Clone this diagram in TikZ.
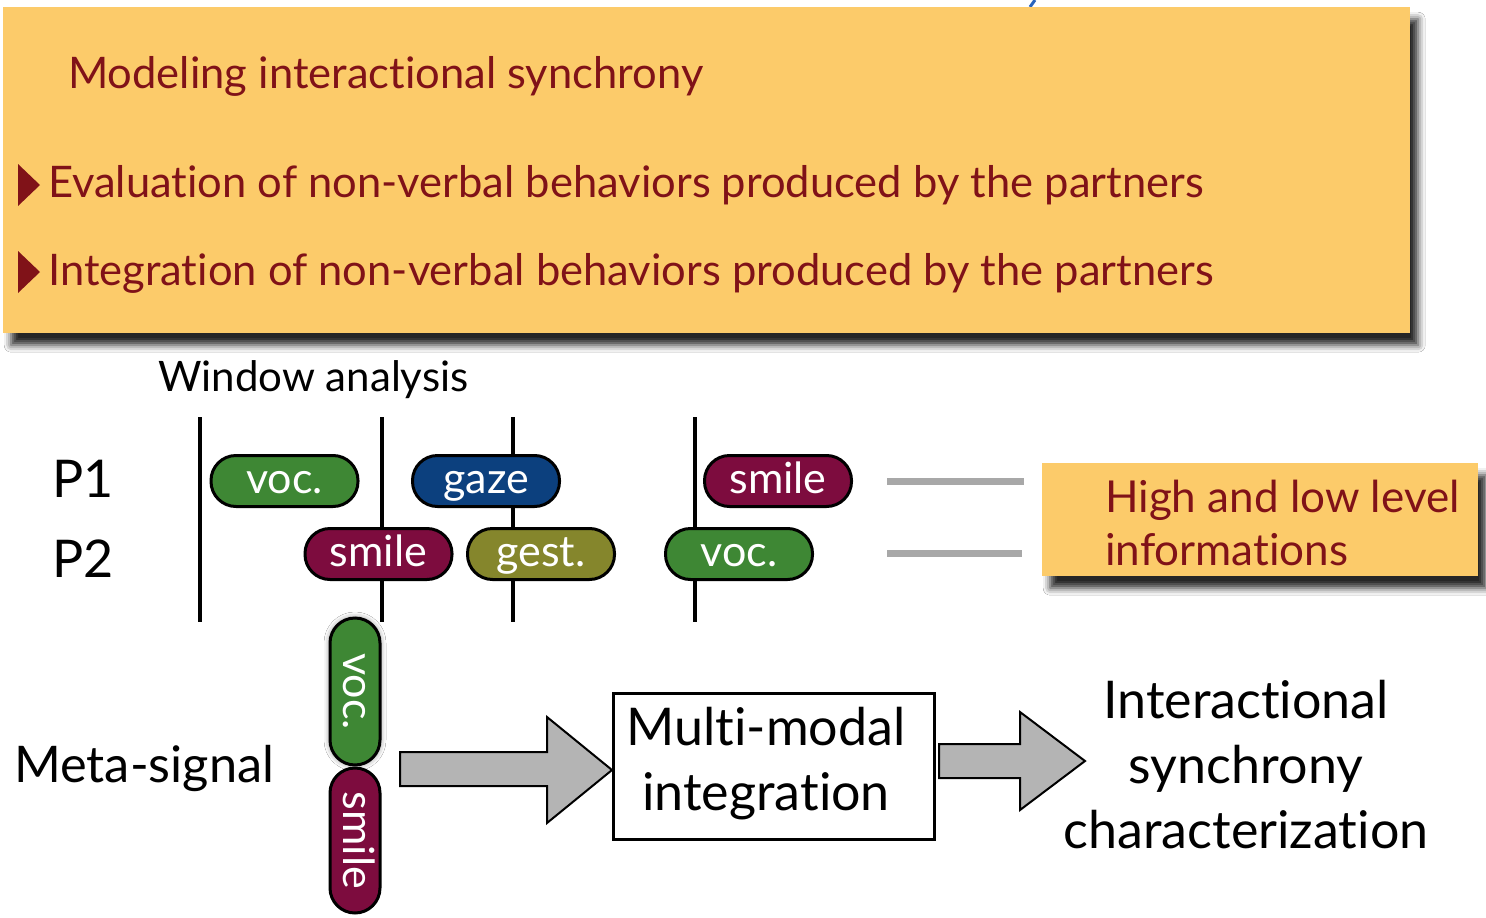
\documentclass[tikz,border=0pt]{standalone}
\usepackage{fontspec}
\setmainfont{Lato}[Ligatures={NoCommon,NoRare,NoDiscretionary}]
\usetikzlibrary{shadows.blur}
\definecolor{boxfill}{RGB}{252,203,106}
\definecolor{darkred}{RGB}{128,18,24}
\definecolor{pgreen}{RGB}{62,135,52}
\definecolor{pblue}{RGB}{12,64,126}
\definecolor{pmaroon}{RGB}{125,12,62}
\definecolor{polive}{RGB}{133,134,44}
\definecolor{arrowgray}{RGB}{180,180,180}
\definecolor{titleblue}{RGB}{40,100,190}
\newcommand{\fs}[1]{\fontsize{#1}{#1}\selectfont}
\begin{document}
\begin{tikzpicture}[x=1pt,y=-1pt,
  ybox/.style={fill=boxfill, draw=none, inner sep=0pt, anchor=north west,
    blur shadow={shadow xshift=8pt, shadow yshift=-12pt, shadow blur radius=7pt, shadow opacity=85}},
  pill/.style={draw=black, line width=3pt, rounded corners=25pt, minimum width=147pt,
    minimum height=51pt, inner sep=0pt, text=white, font=\fs{43}, text height=24pt, text depth=0pt},
  vline/.style={line width=4pt, black},
  lbl/.style={inner sep=0pt, anchor=base west},
  redtxt/.style={lbl, text=darkred, font=\fs{43.5}},
  bigtxt/.style={inner sep=0pt, anchor=base, font=\fs{52}},
  fuzzy/.style={line width=7pt, gray!80, opacity=0.85},
  blockarrow/.style={fill=arrowgray, draw=black, line width=2pt, line join=miter}
]
\path[use as bounding box] (0,0) rectangle (1486,918);
\fill[white] (0,0) rectangle (1486,918);
% clipped title fragment
\draw[titleblue, line width=3pt] (1030,7) -- (1035,0);

% top box
\node[ybox, minimum width=1407pt, minimum height=326pt] (top) at (3,7) {};
\node[redtxt] (t1) at (68,88) {Modeling interactional synchrony};
\fill[darkred] (18,164) -- (40,185) -- (18,206) -- cycle;
\node[redtxt] (t2) at (48,197) {Evaluation of non-verbal behaviors produced by the partners};
\fill[darkred] (18,251) -- (40,272) -- (18,293) -- cycle;
\node[redtxt] (t3) at (48,285) {Integration of non-verbal behaviors produced by the partners};

% window analysis
\node[lbl, font=\fs{42}] (wa) at (158,391) {Window analysis};
\node[lbl, font=\fs{52}] (p1) at (52,497) {P1};
\node[lbl, font=\fs{52}] (p2) at (52,577) {P2};

\coordinate (l1t) at (200,417); \coordinate (l1b) at (200,622);
\coordinate (l2t) at (382,417); \coordinate (l2b) at (382,622);
\coordinate (l3t) at (513,417); \coordinate (l3b) at (513,622);
\coordinate (l4t) at (695,417); \coordinate (l4b) at (695,622);
\draw[vline] (l1t) -- (l1b);
\draw[vline] (l2t) -- (l2b);
\draw[vline] (l3t) -- (l3b);
\draw[vline] (l4t) -- (l4b);

\node[pill, fill=pgreen]  (a1) at (284.5,481) {voc.};
\node[pill, fill=pblue]   (a2) at (486,481) {gaze};
\node[pill, fill=pmaroon] (a3) at (778,481) {smile};
\node[pill, fill=pmaroon] (b1) at (378.5,554) {smile};
\node[pill, fill=polive]  (b2) at (541,554) {gest.};
\node[pill, fill=pgreen]  (b3) at (739,554) {voc.};

% fuzzy continuation lines
\coordinate (f1a) at (887,481); \coordinate (f1b) at (1024,481);
\coordinate (f2a) at (887,553); \coordinate (f2b) at (1022,553);
\draw[fuzzy] (f1a) -- (f1b);
\draw[fuzzy] (f2a) -- (f2b);

% high and low level box
\node[ybox, minimum width=436pt, minimum height=113pt] (hl) at (1042,463) {};
\node[redtxt, font=\fs{44}] (hl1) at (1105,512) {High and low level};
\node[redtxt, font=\fs{44}] (hl2) at (1105,565) {informations};

% meta-signal
\node[lbl, font=\fs{50.5}] (meta) at (14,782) {Meta-signal};
\node[pill, fill=pgreen, rotate=-90, minimum width=147pt, minimum height=50pt,
  blur shadow={shadow xshift=0pt, shadow yshift=0pt, shadow blur radius=6pt, shadow opacity=50}] (v1) at (355,691.5) {voc.};
\node[pill, fill=pmaroon, rotate=-90, minimum width=145pt, minimum height=50pt] (v2) at (355,840.5) {smile};

% multi-modal box
\node[draw=black, line width=3pt, fill=white, minimum width=321pt, minimum height=146pt,
  inner sep=0pt, anchor=north west] (mm) at (612,692) {};
\node[bigtxt] (mm1) at (766,745) {Multi-modal};
\node[bigtxt] (mm2) at (766,810) {integration};

% block arrows
\draw[blockarrow] (400,752) -- (547,752) -- (547,717) -- (mm.west |- 0,770) -- (547,823) -- (547,786) -- (400,786) -- cycle;
\draw[blockarrow] (939,744) -- (1020,744) -- (1020,712) -- (1085,761) -- (1020,810) -- (1020,778) -- (939,778) -- cycle;

% result
\node[bigtxt] (r1) at (1246,718) {Interactional};
\node[bigtxt] (r2) at (1246,783) {synchrony};
\node[bigtxt] (r3) at (1246,848) {characterization};
\end{tikzpicture}
\end{document}
